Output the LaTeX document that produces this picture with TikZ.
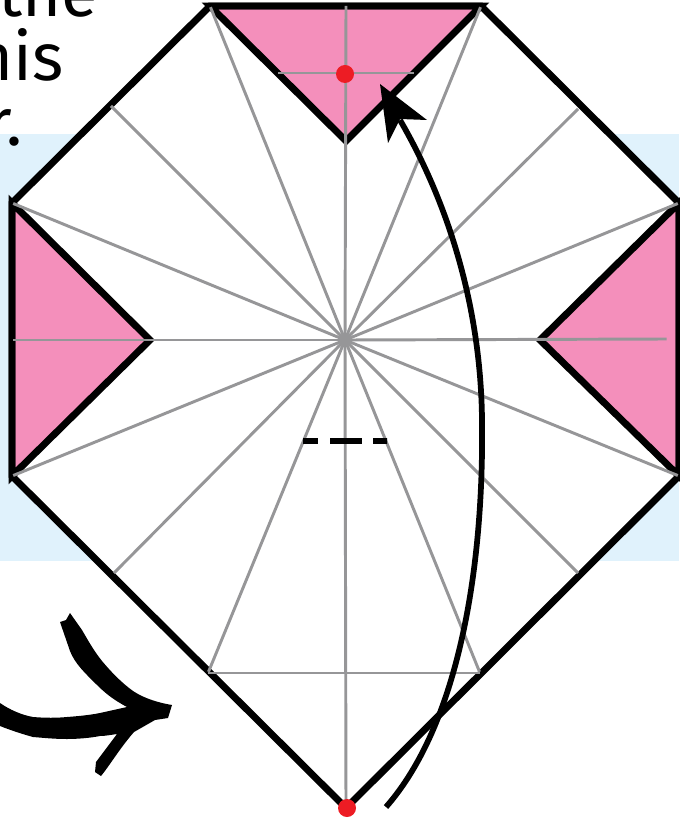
\documentclass[tikz,border=0pt]{standalone}
\usepackage{fontspec}
\setmainfont{Fira Sans}
\usetikzlibrary{calc}
\definecolor{bandblue}{RGB}{224,242,252}
\definecolor{flappink}{RGB}{244,143,187}
\definecolor{creasegrey}{RGB}{150,150,152}
\definecolor{dotred}{RGB}{237,28,36}
\tikzset{
  x=0.75pt,y=-0.75pt,
  crease/.style={draw=creasegrey,line width=2.2pt,shorten >=1pt},
  outline/.style={draw=black,line width=5.2pt,miter limit=10,line join=miter},
  flap/.style={fill=flappink,draw=black,line width=5.2pt,line join=miter},
  reddot/.style={circle,fill=dotred,draw=none,minimum size=13.5pt,inner sep=0pt},
  pagetext/.style={font=\fontsize{50}{60}\selectfont,anchor=base east,inner sep=0pt,text=black},
}
\begin{document}
\begin{tikzpicture}
\useasboundingbox (0,0) rectangle (679,823);
\fill[bandblue] (0,134) rectangle (679,561);
\node[pagetext] (t1) at (98,17) {the};
\node[pagetext] (t2) at (64,81) {his};
\node[pagetext] (t3) at (23,146) {r.};
% corners
\coordinate (a) at (210,6);
\coordinate (b) at (481,6);
\coordinate (c) at (679,203);
\coordinate (d) at (679,476);
\coordinate (e) at (346,808);
\coordinate (f) at (12,476);
\coordinate (g) at (12,203);
\coordinate (o) at (345,340);
\coordinate (tp) at (346,141);
\coordinate (lp) at (150,340);
\coordinate (rp) at (540,340);
\fill[white] (a)--(b)--(c)--(d)--(e)--(f)--(g)--cycle;
\filldraw[flap] (a)--(b)--(tp)--cycle;
\filldraw[flap] (g)--(f)--(lp)--cycle;
\filldraw[flap] (c)--(d)--(rp)--cycle;
\draw[outline] (a)--(b)--(c)--(d)--(e)--(f)--(g)--cycle;
% creases
\coordinate (m1) at (110,105);
\coordinate (m2) at (579,108);
\coordinate (m3) at (113,574);
\coordinate (m4) at (579,574);
\coordinate (m5) at (208,673);
\coordinate (m6) at (480,673);
\coordinate (m7) at (346,6);
\coordinate (m8) at (12,340);
\coordinate (m9) at (668,339);
\coordinate (h1) at (278,73);
\coordinate (h2) at (414,73);
\foreach \p in {a,b,c,d,f,g,m1,m2,m3,m4,m5,m6,m8,m9}
  \draw[crease] (o)--(\p);
\draw[crease,shorten >=0pt] (m7)--(o)--(e);
\draw[crease,shorten >=0pt] (m5)--(m6);
\draw[crease,shorten >=0pt] (h1)--(h2);
% valley fold mark
\coordinate (v1) at (303,441);
\coordinate (v2) at (387,441);
\draw[line width=4.5pt,dash pattern=on 11.25pt off 9pt on 24pt off 8.25pt on 10.5pt off 0pt] (v1)--(v2);
% curved arrow
\coordinate (s) at (386,807);
\coordinate (n) at (400,120);
\draw[line width=4.3pt] (s) .. controls (458,725) and (484,570) .. (482,420)
  .. controls (481,320) and (455,215) .. (n);
\fill (380,84)--(427,120)--(400,119)--(388,143)--cycle;
% brush arrow
\fill (0,703) .. controls (10,710) and (22,715) .. (33,717)
  .. controls (45,718) and (57,718) .. (67,717)
  .. controls (80,716) and (90,715) .. (100,713)
  -- (127,707)
  .. controls (112,699) and (104,692) .. (96,684)
  .. controls (86,674) and (75,664) .. (70,651)
  -- (60,622) -- (66,620) -- (70,613)
  -- (82,630)
  .. controls (89,642) and (94,651) .. (102,661)
  .. controls (112,673) and (122,683) .. (133,691)
  .. controls (145,699) and (160,703) .. (172,705)
  -- (168,718) -- (155,720)
  -- (134,732)
  .. controls (120,748) and (110,765) .. (101,776)
  -- (95,772) -- (96,762)
  -- (117,734)
  .. controls (110,735) and (105,736) .. (100,736)
  .. controls (90,738) and (77,739) .. (67,739)
  .. controls (55,739) and (45,738) .. (33,737)
  .. controls (22,734) and (10,730) .. (0,726) -- cycle;
% dots
\node[reddot] (d1) at (345,74) {};
\node[reddot] (d2) at (347,808) {};
\end{tikzpicture}
\end{document}
